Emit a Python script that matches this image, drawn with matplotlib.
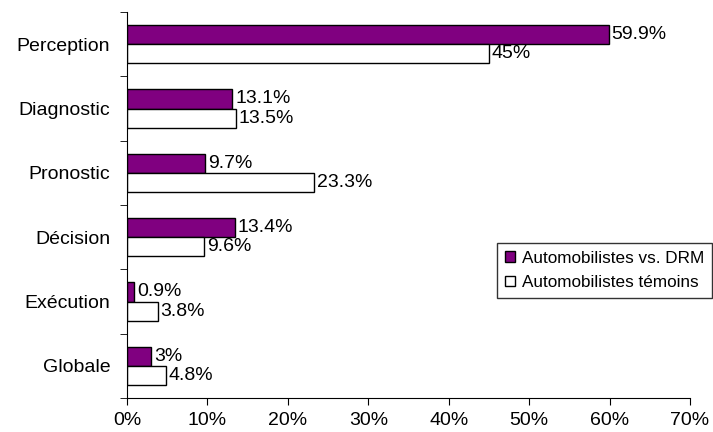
import matplotlib.pyplot as plt
import numpy as np
from matplotlib.patches import Patch
from matplotlib.ticker import FuncFormatter

plt.rcParams['font.family'] = ['Liberation Sans', 'DejaVu Sans']

categories = ['Perception', 'Diagnostic', 'Pronostic', 'Décision', 'Exécution', 'Globale']
drm_values = [59.9, 13.1, 9.7, 13.4, 0.9, 3.0]
temoin_values = [45.0, 13.5, 23.3, 9.6, 3.8, 4.8]
drm_labels = ['59.9%', '13.1%', '9.7%', '13.4%', '0.9%', '3%']
temoin_labels = ['45%', '13.5%', '23.3%', '9.6%', '3.8%', '4.8%']

fig = plt.figure(figsize=(7.13, 4.32), dpi=100)
ax = fig.add_axes([127/713, 1 - 398/432, (690 - 127)/713, (398 - 12)/432])

n = len(categories)
pos = np.arange(n)[::-1]  # Perception at top
h = 0.3
ax.barh(pos + h/2, drm_values, height=h, color='#800080', edgecolor='black', linewidth=1,
        label='Automobilistes vs. DRM')
ax.barh(pos - h/2, temoin_values, height=h, color='white', edgecolor='black', linewidth=1,
        label='Automobilistes témoins')

fs = 14
for p, v, lab in zip(pos, drm_values, drm_labels):
    ax.annotate(lab, (v, p + h/2), xytext=(2, 0), textcoords='offset points',
                va='center', ha='left', fontsize=fs)
for p, v, lab in zip(pos, temoin_values, temoin_labels):
    ax.annotate(lab, (v, p - h/2), xytext=(2, 0), textcoords='offset points',
                va='center', ha='left', fontsize=fs)

ax.set_xlim(0, 70)
ax.set_ylim(-0.5, n - 0.5)
ax.set_xticks(np.arange(0, 71, 10))
ax.xaxis.set_major_formatter(FuncFormatter(lambda x, _: '%d%%' % x))
ax.set_yticks(pos)
ax.set_yticklabels(categories)
ax.set_yticks(np.arange(-0.5, n), minor=True)
ax.tick_params(axis='y', which='major', length=0, pad=12, labelsize=fs)
ax.tick_params(axis='y', which='minor', length=5, direction='out')
ax.tick_params(axis='x', length=5, direction='out', labelsize=fs, pad=5)

ax.spines['top'].set_visible(False)
ax.spines['right'].set_visible(False)

handles = [Patch(facecolor='#800080', edgecolor='black'),
           Patch(facecolor='white', edgecolor='black')]
leg = ax.legend(handles, ['Automobilistes vs. DRM', 'Automobilistes témoins'],
                loc='upper left', bbox_to_anchor=((497 - 127)/563, 1 - (243 - 12)/386),
                fontsize=12.3, frameon=True, fancybox=False, edgecolor='black',
                handlelength=0.6, handleheight=0.6, handletextpad=0.4,
                borderaxespad=0, labelspacing=0.55, borderpad=0.45)
leg.get_frame().set_linewidth(1)

fig.savefig('out.png', dpi=100)
